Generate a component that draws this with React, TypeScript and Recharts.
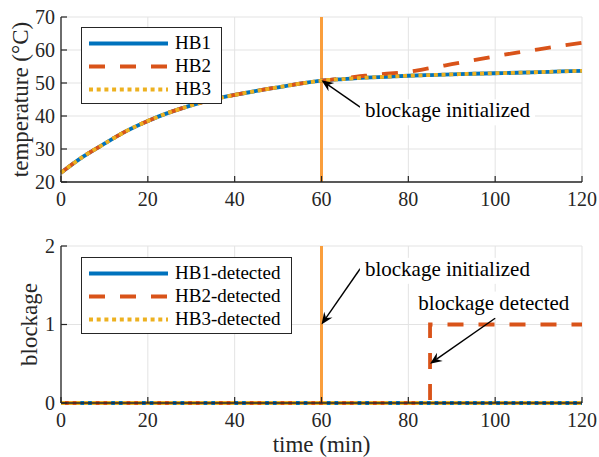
import React from "react"
import {
  LineChart,
  Line,
  XAxis,
  YAxis,
  CartesianGrid,
  ReferenceLine,
  ReferenceDot,
  Legend,
  Label,
} from "recharts"

const FONT = "Liberation Serif, Tinos, DejaVu Serif, Times New Roman, Times, serif"
const AX = "#262626"
const GRID = "#e3e3e3"
const MARK = "#fa9e3c"

// temperature run, minutes vs °C
const time = [0, 5, 10, 15, 20, 25, 30, 35, 40, 45, 50, 55, 60, 65, 70, 75, 80, 85, 90, 95, 100, 105, 110, 115, 120]
const hb1Temp = [22.8, 27.6, 31.6, 35.4, 38.5, 41.1, 43.2, 45.0, 46.4, 47.6, 48.7, 49.8, 50.7, 51.2, 51.6, 51.9, 52.2, 52.4, 52.6, 52.8, 52.95, 53.1, 53.3, 53.5, 53.7]
const hb2Temp = [22.8, 27.6, 31.6, 35.4, 38.5, 41.1, 43.2, 45.0, 46.4, 47.6, 48.7, 49.8, 50.7, 51.4, 52.2, 52.8, 53.4, 54.5, 55.7, 56.9, 58.1, 59.2, 60.2, 61.2, 62.2]
const hb3Temp = [22.8, 27.6, 31.6, 35.4, 38.5, 41.1, 43.2, 45.0, 46.4, 47.6, 48.7, 49.8, 50.7, 51.2, 51.6, 51.9, 52.2, 52.4, 52.6, 52.8, 52.95, 53.1, 53.3, 53.5, 53.7]

// detection flags
const detTime = [0, 20, 40, 60, 80, 85, 85, 100, 120]
const hb1Det = [0, 0, 0, 0, 0, 0, 0, 0, 0]
const hb2Det = [0, 0, 0, 0, 0, 0, 1, 1, 1]
const hb3Det = [0, 0, 0, 0, 0, 0, 0, 0, 0]

const timeTicks = [0, 20, 40, 60, 80, 100, 120]
const tempTicks = [20, 30, 40, 50, 60, 70]
const detTicks = [0, 1, 2]

const blockageStart = 60

const tempNames = ["HB1", "HB2", "HB3"]
const detNames = ["HB1-detected", "HB2-detected", "HB3-detected"]

// annotations (data units, text anchored at left baseline)
const tempNotes = [{ text: "blockage initialized", x: 70, y: 39.6 }]
const tempArrows = [{ x1: 68.9, y1: 42.7, x2: 60, y2: 50.8 }]
const detNotes = [
  { text: "blockage initialized", x: 70, y: 1.62 },
  { text: "blockage detected", x: 82.3, y: 1.19 },
]
const detArrows = [
  { x1: 68.9, y1: 1.71, x2: 60, y2: 1.0 },
  { x1: 100, y1: 1.08, x2: 85, y2: 0.5 },
]

const tempRows = time.map((t, i) => ({ t, s0: hb1Temp[i], s1: hb2Temp[i], s2: hb3Temp[i] }))
const detRows = detTime.map((t, i) => ({ t, s0: hb1Det[i], s1: hb2Det[i], s2: hb3Det[i] }))

const seriesStyle = [
  { color: "#0072bd", dash: undefined as string | undefined },
  { color: "#d95319", dash: "16 15" },
  { color: "#edb120", dash: "4 3.7" },
]
const LW = 3.8

let ctx: CanvasRenderingContext2D | null = null
function textWidth(s: string, font: string) {
  if (!ctx) ctx = document.createElement("canvas").getContext("2d")
  if (!ctx) return s.length * 9
  ctx.font = font
  return ctx.measureText(s).width
}

function BottomTick({ x, y, payload }: any) {
  return (
    <g>
      <line x1={x} y1={y} x2={x} y2={y - 6} stroke={AX} strokeWidth={1.2} />
      <text x={x} y={y + 24} textAnchor="middle" fontSize={20} fill={AX} style={{ fontFamily: FONT }}>
        {payload.value}
      </text>
    </g>
  )
}

function LeftTick({ x, y, payload }: any) {
  return (
    <g>
      <line x1={x} y1={y} x2={x + 6} y2={y} stroke={AX} strokeWidth={1.2} />
      <text x={x - 6} y={y} dy="0.34em" textAnchor="end" fontSize={20} fill={AX} style={{ fontFamily: FONT }}>
        {payload.value}
      </text>
    </g>
  )
}

function TopTick({ x, y }: any) {
  return <line x1={x} y1={y} x2={x} y2={y + 6} stroke={AX} strokeWidth={1.2} />
}

function RightTick({ x, y }: any) {
  return <line x1={x - 6} y1={y} x2={x} y2={y} stroke={AX} strokeWidth={1.2} />
}

function Arrow({ x1, y1, x2, y2 }: any) {
  const a = Math.atan2(y2 - y1, x2 - x1)
  const ux = Math.cos(a)
  const uy = Math.sin(a)
  const len = 12
  const half = 5
  const bx = x2 - ux * len
  const by = y2 - uy * len
  const nx = x2 - ux * 8
  const ny = y2 - uy * 8
  const pts = [
    [x2, y2],
    [bx - uy * half, by + ux * half],
    [nx, ny],
    [bx + uy * half, by - ux * half],
  ]
  return (
    <g>
      <line x1={x1} y1={y1} x2={nx} y2={ny} stroke="#000" strokeWidth={1.4} />
      <polygon points={pts.map((p) => p.join(",")).join(" ")} fill="#000" />
    </g>
  )
}

function Note({ cx, cy, text }: any) {
  const w = textWidth(text, `21px ${FONT}`)
  return (
    <g>
      <rect x={cx - 5} y={cy - 18} width={w + 10} height={26} fill="#fff" />
      <text x={cx} y={cy} fontSize={21} fill="#000" style={{ fontFamily: FONT }}>
        {text}
      </text>
    </g>
  )
}

function LegendBox({ names }: { names: string[] }) {
  return (
    <div
      style={{
        display: "inline-block",
        border: `1px solid ${AX}`,
        background: "#fff",
        padding: "3.5px 10px 2.5px 7px",
        fontFamily: FONT,
        fontSize: 19,
        color: "#000",
      }}
    >
      {names.map((n, i) => (
        <div key={n} style={{ display: "flex", alignItems: "center", height: 23, whiteSpace: "nowrap" }}>
          <svg width={79} height={23} style={{ marginRight: 7, display: "block" }}>
            <line
              x1={0}
              y1={11.5}
              x2={79}
              y2={11.5}
              stroke={seriesStyle[i].color}
              strokeWidth={LW}
              strokeDasharray={seriesStyle[i].dash}
            />
          </svg>
          <span>{n}</span>
        </div>
      ))}
    </div>
  )
}

interface PanelProps {
  rows: any[]
  height: number
  top: number
  xAxisHeight: number
  yDomain: [number, number]
  yTicks: number[]
  yLabel: string
  yLabelX: number
  xLabel?: string
  names: string[]
  notes: { text: string; x: number; y: number }[]
  arrows: { x1: number; y1: number; x2: number; y2: number }[]
  curve: "monotone" | "linear"
}

function Panel(p: PanelProps) {
  return (
    <LineChart
      width={599}
      height={p.height}
      data={p.rows}
      margin={{ top: p.top, right: 17, bottom: 0, left: 0 }}
      style={{ fontFamily: FONT }}
    >
      <CartesianGrid stroke={GRID} strokeWidth={1} />
      <XAxis
        dataKey="t"
        type="number"
        domain={[0, 120]}
        ticks={timeTicks}
        height={p.xAxisHeight}
        tickSize={0}
        tickMargin={0}
        tickLine={false}
        axisLine={{ stroke: AX, strokeWidth: 1.3 }}
        tick={(props: any) => <BottomTick {...props} />}
      >
        {p.xLabel && (
          <Label
            content={(lp: any) => {
              const vb = lp.viewBox || { x: 61, y: 173, width: 521, height: 54 }
              return (
                <text
                  x={vb.x + vb.width / 2}
                  y={vb.y + vb.height - 5}
                  textAnchor="middle"
                  fontSize={23}
                  fill={AX}
                  style={{ fontFamily: FONT }}
                >
                  {p.xLabel}
                </text>
              )
            }}
          />
        )}
      </XAxis>
      <XAxis
        xAxisId="top"
        dataKey="t"
        type="number"
        orientation="top"
        domain={[0, 120]}
        ticks={timeTicks}
        height={0}
        tickSize={0}
        tickMargin={0}
        tickLine={false}
        axisLine={{ stroke: AX, strokeWidth: 1.3 }}
        tick={(props: any) => <TopTick {...props} />}
      />
      <YAxis
        type="number"
        domain={p.yDomain}
        ticks={p.yTicks}
        width={61}
        tickSize={0}
        tickMargin={0}
        tickLine={false}
        axisLine={{ stroke: AX, strokeWidth: 1.3 }}
        tick={(props: any) => <LeftTick {...props} />}
      >
        <Label
          content={(lp: any) => {
            const vb = lp.viewBox || { x: 0, y: p.top, width: 61, height: 160 }
            const x = vb.x + p.yLabelX
            const y = vb.y + vb.height / 2
            return (
              <text
                x={x}
                y={y}
                transform={`rotate(-90 ${x} ${y})`}
                textAnchor="middle"
                fontSize={23}
                fill={AX}
                style={{ fontFamily: FONT }}
              >
                {p.yLabel}
              </text>
            )
          }}
        />
      </YAxis>
      <YAxis
        yAxisId="right"
        orientation="right"
        type="number"
        domain={p.yDomain}
        ticks={p.yTicks}
        width={0}
        tickSize={0}
        tickMargin={0}
        tickLine={false}
        axisLine={{ stroke: AX, strokeWidth: 1.3 }}
        tick={(props: any) => <RightTick {...props} />}
      />
      <ReferenceLine x={blockageStart} stroke={MARK} strokeWidth={3} />
      {seriesStyle.map((s, i) => (
        <Line
          key={i}
          dataKey={`s${i}`}
          name={p.names[i]}
          type={p.curve}
          stroke={s.color}
          strokeWidth={LW}
          strokeDasharray={s.dash}
          dot={false}
          activeDot={false}
          isAnimationActive={false}
        />
      ))}
      {p.notes.map((n, i) => (
        <ReferenceDot
          key={`n${i}`}
          x={n.x}
          y={n.y}
          r={0}
          shape={(dp: any) => <Note cx={dp.cx} cy={dp.cy} text={n.text} />}
        />
      ))}
      {p.arrows.map((a, i) => (
        <ReferenceLine
          key={`a${i}`}
          segment={[
            { x: a.x1, y: a.y1 },
            { x: a.x2, y: a.y2 },
          ]}
          shape={(lp: any) => <Arrow {...lp} />}
        />
      ))}
      <Legend
        layout="horizontal"
        verticalAlign="middle"
        align="center"
        wrapperStyle={{ left: 81, top: 27, width: "auto" }}
        content={() => <LegendBox names={p.names} />}
      />
    </LineChart>
  )
}

export default function App() {
  return (
    <div style={{ position: "absolute", left: 0, top: 0, width: 599, height: 457, background: "#fff" }}>
      <div style={{ position: "absolute", left: 0, top: 0 }}>
        <Panel
          rows={tempRows}
          height={215}
          top={17}
          xAxisHeight={33}
          yDomain={[20, 70]}
          yTicks={tempTicks}
          yLabel="temperature (°C)"
          yLabelX={28}
          names={tempNames}
          notes={tempNotes}
          arrows={tempArrows}
          curve="monotone"
        />
      </div>
      <div style={{ position: "absolute", left: 0, top: 230 }}>
        <Panel
          rows={detRows}
          height={227}
          top={16}
          xAxisHeight={54}
          yDomain={[0, 2]}
          yTicks={detTicks}
          yLabel="blockage"
          yLabelX={37}
          xLabel="time (min)"
          names={detNames}
          notes={detNotes}
          arrows={detArrows}
          curve="linear"
        />
      </div>
    </div>
  )
}
